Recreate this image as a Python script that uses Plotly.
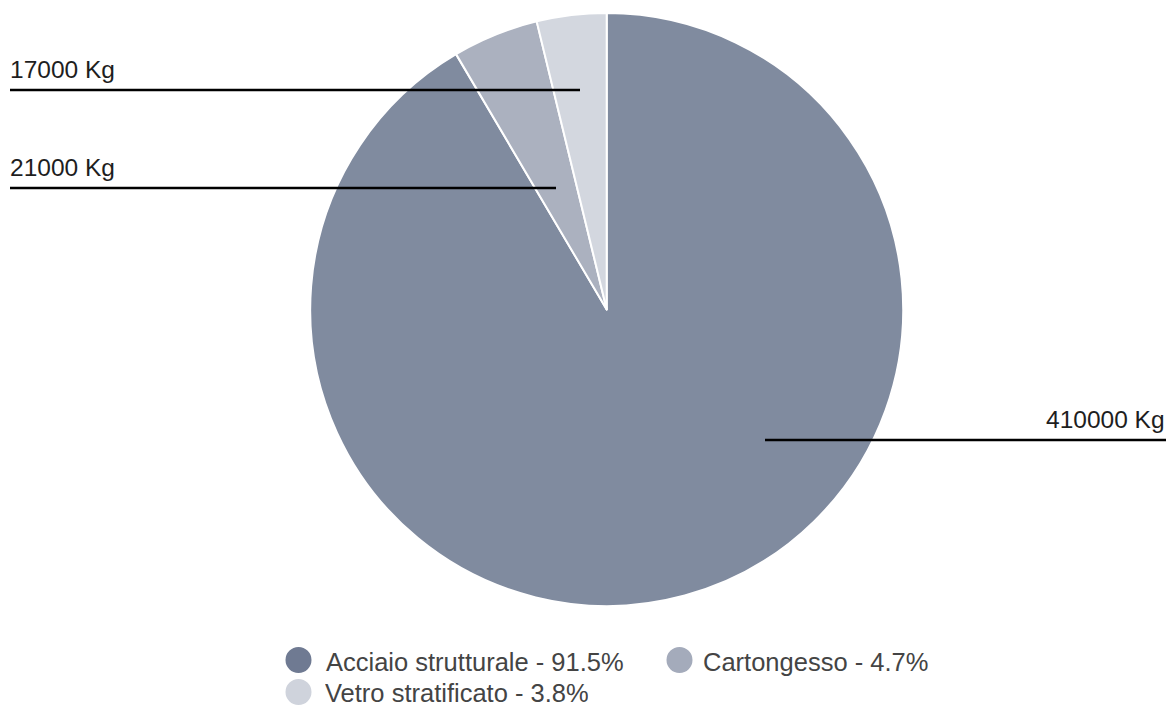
import plotly.graph_objects as go

# ---- data ----
materials = ["Acciaio strutturale", "Cartongesso", "Vetro stratificato"]
weights_kg = [410000, 21000, 17000]
unit = "Kg"

# ---- style ----
slice_colors = ["#808b9f", "#abb1bf", "#d3d7df"]
legend_colors = ["#6f7a92", "#a4abbb", "#cfd3dc"]
FONT = "Liberation Sans, Arial, Helvetica, sans-serif"

W, H = 1173, 706


def px(x):
    return x / W


def py(y):
    return 1 - y / H


# pie placement (pixels)
cx, cy, r = 606.7, 309.5, 296.5

# label leader-line layout (pixels): line y, x range, text side
label_layout = [
    dict(y=440, x0=765, x1=1166, side="right"),   # Acciaio
    dict(y=188, x0=10, x1=556, side="left"),      # Cartongesso
    dict(y=90, x0=10, x1=580, side="left"),       # Vetro
]

# legend layout (pixels): circle centre x, y, text x, text box height
legend_layout = [
    dict(cx=298.5, cy=660, tx=323.5, h=None),
    dict(cx=679.5, cy=660, tx=700.5, h=None),
    dict(cx=298.5, cy=692, tx=323.5, h=22),
]

total = sum(weights_kg)
pcts = [w / total * 100 for w in weights_kg]

fig = go.Figure(
    go.Pie(
        labels=materials,
        values=weights_kg,
        sort=False,
        direction="clockwise",
        rotation=0,
        marker=dict(colors=slice_colors, line=dict(color="white", width=2)),
        textinfo="none",
        hoverinfo="label+value+percent",
        showlegend=False,
        domain=dict(x=[px(cx - r), px(cx + r)], y=[py(cy + r), py(cy - r)]),
    )
)

shapes = []
annotations = []
for w, lay in zip(weights_kg, label_layout):
    shapes.append(dict(type="line", xref="paper", yref="paper",
                       x0=px(lay["x0"]), x1=px(lay["x1"]),
                       y0=py(lay["y"]), y1=py(lay["y"]),
                       line=dict(color="#000000", width=2.5)))
    if lay["side"] == "left":
        ax, xanchor = px(lay["x0"] - 2), "left"
    else:
        ax, xanchor = px(lay["x1"] + 1), "right"
    annotations.append(dict(xref="paper", yref="paper", x=ax, y=py(lay["y"] - 5),
                            xanchor=xanchor, yanchor="bottom", showarrow=False,
                            text=f"{w} {unit}",
                            font=dict(family=FONT, size=24.5, color="#1e1e1e")))

for m, p, col, lay in zip(materials, pcts, legend_colors, legend_layout):
    rad = 13
    shapes.append(dict(type="circle", xref="paper", yref="paper",
                       x0=px(lay["cx"] - rad), x1=px(lay["cx"] + rad),
                       y0=py(lay["cy"] + rad), y1=py(lay["cy"] - rad),
                       fillcolor=col, line=dict(width=0)))
    ann = dict(xref="paper", yref="paper", x=px(lay["tx"]), y=py(lay["cy"] + 2),
               xanchor="left", yanchor="middle", showarrow=False,
               text=f"{m} - {p:.1f}%",
               font=dict(family=FONT, size=25.5, color="#444444"))
    if lay["h"]:
        ann.update(height=lay["h"], valign="middle", borderpad=0, y=py(lay["cy"] + 1))
    annotations.append(ann)

fig.update_layout(
    width=W, height=H,
    margin=dict(l=0, r=0, t=0, b=0),
    paper_bgcolor="white",
    plot_bgcolor="white",
    shapes=shapes,
    annotations=annotations,
    showlegend=False,
)

fig.write_html("out.html")
